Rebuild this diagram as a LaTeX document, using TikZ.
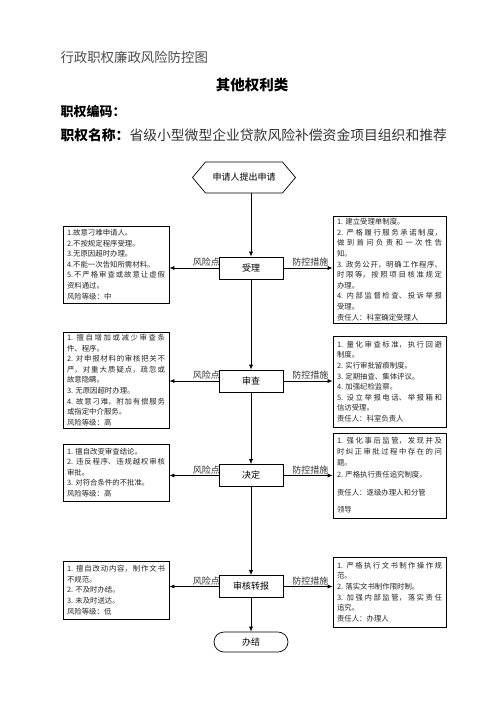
\documentclass[tikz,border=0pt]{standalone}
\usepackage{fontspec}
\setmainfont{Noto Sans CJK SC}
\XeTeXlinebreaklocale "zh"
\XeTeXlinebreakskip=0pt plus 3pt
\usetikzlibrary{shapes.symbols,arrows.meta}
\begin{document}
\begin{tikzpicture}[x=1pt,y=-1pt,
  box/.style={draw,line width=0.7pt,minimum width=64pt,minimum height=22pt,inner sep=0pt,font=\fontsize{9}{9}\selectfont},
  note/.style={draw,line width=0.7pt,inner xsep=4pt,inner ysep=2pt,align=justify,font=\fontsize{7.4}{10.6}\selectfont,text=black!85},
  risk/.style={note,text width=98pt,minimum height=#1},
  ctrl/.style={note,text width=105pt,minimum height=#1},
  tag/.style={above=1pt,inner sep=0pt,font=\fontsize{9}{9}\selectfont,text=black!80},
  flow/.style={-{Latex[length=5pt,width=4pt]},line width=0.7pt}]
\useasboundingbox (0,0) rectangle (496,702);
\node[anchor=west,font=\fontsize{13.4}{13.4}\selectfont,text=black!70] (ttl) at (57,57) {行政职权廉政风险防控图};
\node[font=\bfseries\fontsize{14.5}{14.5}\selectfont] (kind) at (252,85) {其他权利类};
\node[anchor=west,font=\bfseries\fontsize{13}{13}\selectfont] (code) at (57,112) {职权编码：};
\node[anchor=west,font=\fontsize{13.8}{13.8}\selectfont,text=black!80] (name) at (57,135) {\textcolor{black}{\bfseries 职权名称：}省级小型微型企业贷款风险补偿资金项目组织和推荐};

\node[draw,signal,signal to=west and east,signal pointer angle=100,minimum width=103pt,minimum height=31pt,inner sep=0pt,line width=0.7pt,font=\fontsize{9}{9}\selectfont] (apply) at (244,177.5) {申请人提出申请};
\node[box] (accept) at (251,268) {受理};
\node[box] (review) at (251,381) {审查};
\node[box] (decide) at (251,475.5) {决定};
\node[box] (report) at (251,586.5) {审核转报};
\node[box,minimum width=74pt,minimum height=20pt,rounded corners=10pt] (done) at (251,642) {办结};

\node[risk=77pt] (r1) at (116,264.5) {1.故意刁难申请人。\\2.不按规定程序受理。\\3.无原因超时办理。\\4.不能一次告知所需材料。\\5.不严格审查或故意让虚假\linebreak 资料通过。\\风险等级：中};
\node[ctrl=107pt] (c1) at (389.5,269.5) {1. 建立受理单制度。\\2. 严格履行服务承诺制度，\linebreak 做到首问负责和一次性告\linebreak 知。\\3. 政务公开，明确工作程序、\linebreak 时限等，按照项目核准规定\linebreak 办理。\\4. 内部监督检查、投诉举报\linebreak 受理。\\责任人：科室确定受理人};
\node[risk=96pt] (r2) at (116,380) {1. 擅自增加或减少审查条\linebreak 件、程序。\\2. 对申报材料的审核把关不\linebreak 严，对重大质疑点，疏忽或\linebreak 故意隐瞒。\\3. 无原因超时办理。\\4. 故意刁难，附加有偿服务\linebreak 或指定中介服务。\\风险等级：高};
\node[ctrl=91pt] (c2) at (389.5,381.5) {1. 量化审查标准，执行回避\linebreak 制度。\\2. 实行审批留痕制度。\\3. 定期抽查、集体评议。\\4. 加强纪检监察。\\5. 设立举报电话、举报箱和\linebreak 信访受理。\\责任人：科室负责人};
\node[risk=57pt] (r3) at (116,472.5) {1. 擅自改变审查结论。\\2. 违反程序、违规越权审核\linebreak 审批。\\3. 对符合条件的不批准。\\风险等级：高};
\node[ctrl=85pt] (c3) at (389.5,475.5) {1. 强化事后监管，发现并及\linebreak 时纠正审批过程中存在的问\linebreak 题。\\[2pt]2. 严格执行责任追究制度。\\[7pt]责任人：逐级办理人和分管\\[7pt]领导};
\node[risk=58pt] (r4) at (116,590) {1. 擅自改动内容，制作文书\linebreak 不规范。\\2. 不及时办结。\\3. 未及时送达。\\风险等级：低};
\node[ctrl=70pt] (c4) at (389.5,592) {1. 严格执行文书制作操作规\linebreak 范。\\2. 落实文书制作限时制。\\3. 加强内部监管，落实责任\linebreak 追究。\\责任人：办理人};

\draw[flow] (apply.south -| accept.north) -- (accept);
\draw[flow] (accept) -- (review);
\draw[flow] (review) -- (decide);
\draw[flow] (decide) -- (report);
\draw[flow] (report) -- (done);
\draw[flow] (accept) -- node[tag,pos=.25] {风险点} (r1.east |- accept);
\draw[flow] (accept) -- node[tag,pos=.55] {防控措施} (c1.west |- accept);
\draw[flow] (review) -- node[tag,pos=.25] {风险点} (r2.east |- review);
\draw[flow] (review) -- node[tag,pos=.55] {防控措施} (c2.west |- review);
\draw[flow] (decide) -- node[tag,pos=.25] {风险点} (r3.east |- decide);
\draw[flow] (decide) -- node[tag,pos=.55] {防控措施} (c3.west |- decide);
\draw[flow] (report) -- node[tag,pos=.25] {风险点} (r4.east |- report);
\draw[flow] (report) -- node[tag,pos=.55] {防控措施} (c4.west |- report);
\end{tikzpicture}
\end{document}
